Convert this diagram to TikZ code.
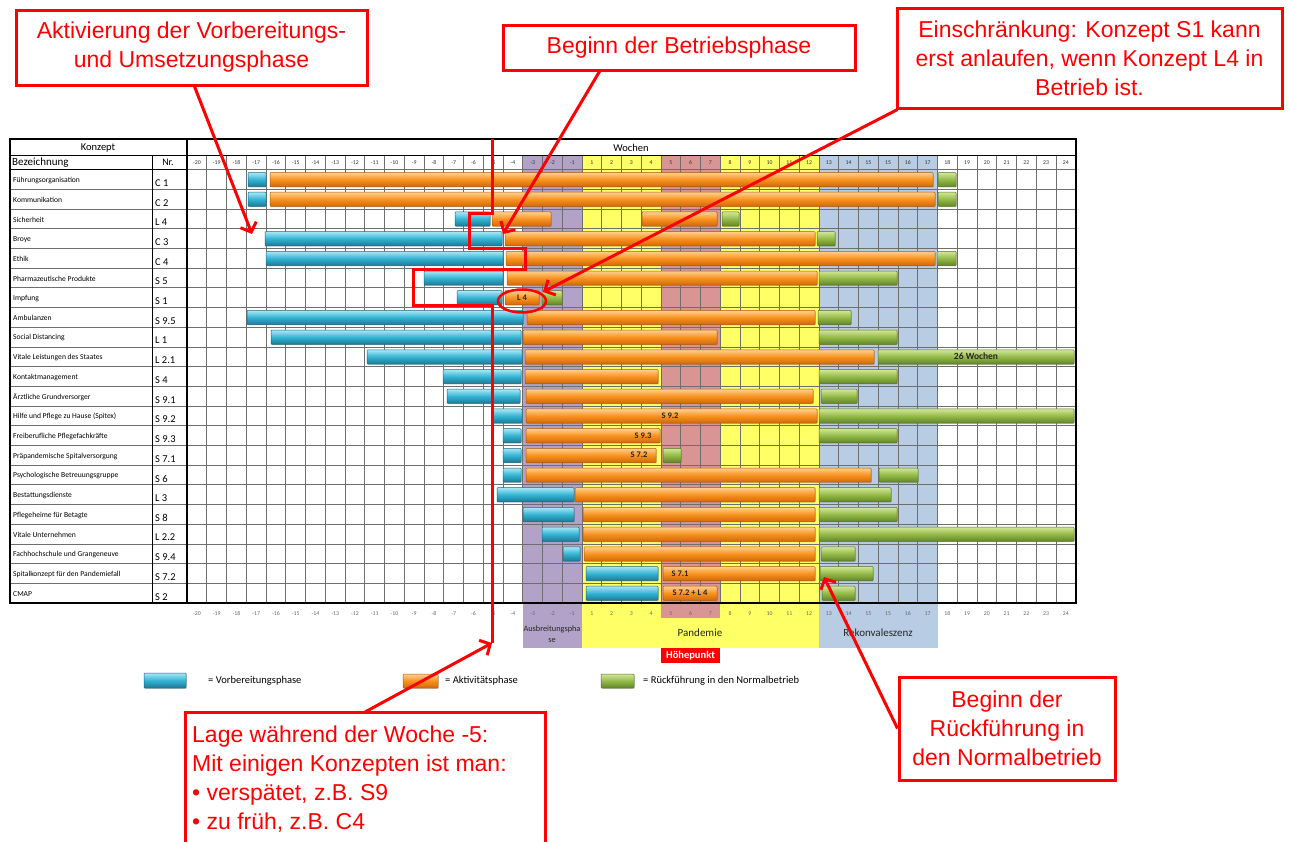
\documentclass[tikz,border=0pt]{standalone}
\usepackage{fontspec}
\setmainfont{Carlito}
\newfontfamily\annfont{Liberation Sans}
\usetikzlibrary{arrows.meta,shadows}

% phase colours
\definecolor{phPurple}{HTML}{B3A2C7}
\definecolor{phYellow}{HTML}{FFFF66}
\definecolor{phPink}{HTML}{D99594}
\definecolor{phBlue}{HTML}{B8CCE4}
\definecolor{annRed}{HTML}{FF0000}
\definecolor{gridGray}{HTML}{6E6E6E}
% bar colours
\definecolor{blueT}{HTML}{A8E8F6}
\definecolor{blueM}{HTML}{33B3D3}
\definecolor{blueB}{HTML}{1D7895}
\definecolor{blueD}{HTML}{1A6680}
\definecolor{orangeT}{HTML}{FFD08F}
\definecolor{orangeM}{HTML}{F7921E}
\definecolor{orangeB}{HTML}{D2680A}
\definecolor{orangeD}{HTML}{B05508}
\definecolor{greenT}{HTML}{D3E796}
\definecolor{greenM}{HTML}{93BA48}
\definecolor{greenB}{HTML}{62842A}
\definecolor{greenD}{HTML}{557322}

% one Gantt bar: style, row, left x, right x
\newcommand\gbar[4]{%
  \pgfmathsetmacro\gy{169.5+(#2-1)*19.7+3}%
  \path[#1] (#3,\gy) rectangle (#4,\gy+14.2);}

\begin{document}
\begin{tikzpicture}[x=1pt,y=-1pt,
  gridline/.style={draw=gridGray,line width=0.6pt},
  frameline/.style={draw=black,line width=1.8pt},
  rowlbl/.style={anchor=west,inner sep=0pt,font=\fontsize{7.6}{8}\selectfont},
  nrlbl/.style={anchor=west,inner sep=0pt,font=\fontsize{10.5}{11}\selectfont},
  wk/.style={inner sep=0pt,font=\fontsize{5.8}{6}\selectfont,text=black!80},
  barbase/.style={line width=0.5pt,rounded corners=0.8pt,
    drop shadow={opacity=0.3,shadow xshift=0.8pt,shadow yshift=-0.8pt}},
  bluebar/.style={barbase,top color=blueT,bottom color=blueB,middle color=blueM,draw=blueD},
  orangebar/.style={barbase,top color=orangeT,bottom color=orangeB,middle color=orangeM,draw=orangeD},
  greenbar/.style={barbase,top color=greenT,bottom color=greenB,middle color=greenM,draw=greenD},
  barlbl/.style={inner sep=0pt,font=\bfseries\fontsize{8.5}{9}\selectfont,text=black!85},
  phaselbl/.style={inner sep=0pt,align=center,font=\fontsize{11}{12}\selectfont,text=black!85},
  leglbl/.style={anchor=west,inner sep=0pt,font=\fontsize{10.5}{11}\selectfont},
  annbox/.style={draw=annRed,line width=3pt,fill=white,text=annRed,align=center,
    font=\annfont\fontsize{23}{29}\selectfont,inner sep=0pt},
  annline/.style={draw=annRed,line width=3pt},
  annarrow/.style={annline,-{Straight Barb[length=8pt,width=17pt]}}
]
\useasboundingbox (0,0) rectangle (1289,841);
\fill[white] (0,0) rectangle (1289,841);

% ---- phase columns inside the table
\fill[phPurple] (522.75,155.5) rectangle (582,603);
\fill[phYellow] (582,155.5) rectangle (661,603);
\fill[phPink]   (661,155.5) rectangle (720.25,603);
\fill[phYellow] (720.25,155.5) rectangle (819,603);
\fill[phBlue]   (819,155.5) rectangle (937.5,603);
% ---- phase boxes under the table
\fill[phPurple] (522.75,603) rectangle (582,648);
\fill[phYellow] (582,603) rectangle (819,648);
\fill[phPink]   (661,603) rectangle (720.25,618);
\fill[phBlue]   (819,603) rectangle (937.5,648);

% ---- grid
\foreach \c in {1,...,44}
  \draw[gridline] (187+19.75*\c,155.5) -- (187+19.75*\c,603);
\foreach \r in {1,...,21}
  \draw[gridline] (10,169.5+19.7*\r) -- (1076,169.5+19.7*\r);
\draw[gridline] (187,169.5) -- (1076,169.5);

% ---- frame
\draw[line width=1.2pt] (10,169.5) -- (187,169.5);
\draw[line width=0.8pt] (152,155.5) -- (152,603);
\draw[line width=1.6pt] (10,155.5) -- (1076,155.5);
\draw[frameline] (187,139) -- (187,603);
\draw[frameline] (10,139) rectangle (1076,603);

% ---- headers
\node[inner sep=0pt,font=\fontsize{10.5}{11}\selectfont] (hKonzept) at (98,147.5) {Konzept};
\node[inner sep=0pt,font=\fontsize{10.5}{11}\selectfont] (hWochen) at (631,147.5) {Wochen};
\node[anchor=west,inner sep=0pt,font=\fontsize{11}{12}\selectfont] (hBez) at (12,162.5) {Bezeichnung};
\node[inner sep=0pt,font=\fontsize{10}{11}\selectfont] (hNr) at (168,162.5) {Nr.};

% ---- week numbers, top and bottom
\foreach \w [count=\c from 0] in {-20,-19,-18,-17,-16,-15,-14,-13,-12,-11,-10,-9,-8,-7,-6,-5,-4,-3,-2,-1,1,2,3,4,5,6,7,8,9,10,11,12,13,14,15,15,16,17,18,19,20,21,22,23,24} {
  \node[wk] (wt\c) at (196.875+19.75*\c,163) {\w};
  \node[wk,text=black!60] (wb\c) at (196.875+19.75*\c,614) {\w};
}

% ---- concept names and numbers
\foreach \lab/\nr [count=\i] in {Führungsorganisation/C 1,Kommunikation/C 2,Sicherheit/L 4,Broye/C 3,Ethik/C 4,Pharmazeutische Produkte/S 5,Impfung/S 1,Ambulanzen/S 9.5,Social Distancing/L 1,Vitale Leistungen des Staates/L 2.1,Kontaktmanagement/S 4,Ärztliche Grundversorger/S 9.1,Hilfe und Pflege zu Hause (Spitex)/S 9.2,Freiberufliche Pflegefachkräfte/S 9.3,Präpandemische Spitalversorgung/S 7.1,Psychologische Betreuungsgruppe/S 6,Bestattungsdienste/L 3,Pflegeheime für Betagte/S 8,Vitale Unternehmen/L 2.2,Fachhochschule und Grangeneuve/S 9.4,Spitalkonzept für den Pandemiefall/S 7.2,CMAP/S 2} {
  \node[rowlbl] (lab\i) at (13,169.5+19.7*\i-8.8) {\lab};
  \node[nrlbl] (nr\i) at (155,169.5+19.7*\i-6.2) {\nr};
}

% ---- bars
\gbar{bluebar}{1}{248}{266}   \gbar{orangebar}{1}{270}{933}  \gbar{greenbar}{1}{938}{956}
\gbar{bluebar}{2}{248}{266}   \gbar{orangebar}{2}{270}{935}  \gbar{greenbar}{2}{938}{956}
\gbar{bluebar}{3}{455}{490}   \gbar{orangebar}{3}{492}{551}  \gbar{orangebar}{3}{642}{717} \gbar{greenbar}{3}{722}{739}
\gbar{bluebar}{4}{265}{502}   \gbar{orangebar}{4}{505}{815}  \gbar{greenbar}{4}{817}{835}
\gbar{bluebar}{5}{266}{503}   \gbar{orangebar}{5}{506}{935}  \gbar{greenbar}{5}{937}{956}
\gbar{bluebar}{6}{424}{503}   \gbar{orangebar}{6}{507}{817}  \gbar{greenbar}{6}{819}{897}
\gbar{bluebar}{7}{457}{502}   \gbar{orangebar}{7}{505}{539}  \gbar{greenbar}{7}{542}{562}
\gbar{bluebar}{8}{247}{523}   \gbar{orangebar}{8}{527}{815}  \gbar{greenbar}{8}{818}{851}
\gbar{bluebar}{9}{271}{521}   \gbar{orangebar}{9}{523}{717}  \gbar{greenbar}{9}{819}{897}
\gbar{bluebar}{10}{367}{522}  \gbar{orangebar}{10}{525}{874} \gbar{greenbar}{10}{878}{1074}
\gbar{bluebar}{11}{443}{521}  \gbar{orangebar}{11}{525}{658} \gbar{greenbar}{11}{819}{897}
\gbar{bluebar}{12}{447}{520}  \gbar{orangebar}{12}{526}{813} \gbar{greenbar}{12}{821}{857}
\gbar{bluebar}{13}{493}{522}  \gbar{orangebar}{13}{526}{817} \gbar{greenbar}{13}{819}{1074}
\gbar{bluebar}{14}{503}{521}  \gbar{orangebar}{14}{526}{660} \gbar{greenbar}{14}{819}{897}
\gbar{bluebar}{15}{503}{521}  \gbar{orangebar}{15}{526}{656} \gbar{greenbar}{15}{663}{681}
\gbar{bluebar}{16}{503}{521}  \gbar{orangebar}{16}{526}{871} \gbar{greenbar}{16}{879}{918}
\gbar{bluebar}{17}{497}{574}  \gbar{orangebar}{17}{575}{815} \gbar{greenbar}{17}{819}{891}
\gbar{bluebar}{18}{523}{574}  \gbar{orangebar}{18}{583}{815} \gbar{greenbar}{18}{819}{897}
\gbar{bluebar}{19}{542}{579}  \gbar{orangebar}{19}{583}{815} \gbar{greenbar}{19}{819}{1074}
\gbar{bluebar}{20}{563}{580}  \gbar{orangebar}{20}{584}{815} \gbar{greenbar}{20}{821}{855}
\gbar{bluebar}{21}{586}{658}  \gbar{orangebar}{21}{663}{815} \gbar{greenbar}{21}{820}{873}
\gbar{bluebar}{22}{586}{658}  \gbar{orangebar}{22}{663}{717} \gbar{greenbar}{22}{822}{855}

% ---- bar captions
\node[barlbl] (bl7)  at (522,169.5+19.7*6.5) {L 4};
\node[barlbl,font=\bfseries\fontsize{9.5}{10}\selectfont] (bl10) at (976,169.5+19.7*9.5) {26 Wochen};
\node[barlbl] (bl13) at (670,169.5+19.7*12.5) {S 9.2};
\node[barlbl] (bl14) at (643,169.5+19.7*13.5) {S 9.3};
\node[barlbl] (bl15) at (639,169.5+19.7*14.5) {S 7.2};
\node[barlbl] (bl21) at (680,169.5+19.7*20.5) {S 7.1};
\node[barlbl] (bl22) at (690,169.5+19.7*21.5) {S 7.2 + L 4};

% ---- phase names
\node[phaselbl,font=\fontsize{8.3}{11}\selectfont] (phAus) at (552,634) {Ausbreitungspha\\se};
\node[phaselbl] (phPan) at (700,633) {Pandemie};
\node[phaselbl] (phRek) at (878,633) {Rekonvaleszenz};
\node[fill=annRed,text=white,font=\bfseries\fontsize{10.5}{11}\selectfont,
      minimum width=59pt,minimum height=15pt,inner sep=0pt] (peak) at (690.5,655.5) {Höhepunkt};

% ---- legend
\path[bluebar] (144,673) rectangle (186,688);
\node[leglbl] (legB) at (208,681) {= Vorbereitungsphase};
\path[orangebar] (403,674) rectangle (438,688);
\node[leglbl] (legO) at (445,681) {= Aktivitätsphase};
\path[greenbar] (601,674) rectangle (634,688);
\node[leglbl] (legG) at (643,681) {= Rückführung in den Normalbetrieb};

% ---- week -5 marker line
\coordinate (wkTop) at (492,139);
\coordinate (wkLow) at (492,643);
\draw[annline] (wkTop) -- (492,213) -- (469,213) -- (469,248) -- (525,248) -- (525,269)
  -- (413,269) -- (413,305) -- (492,305) -- (wkLow);
\draw[annRed,line width=2.5pt] (522,301) ellipse [x radius=24pt,y radius=11.5pt];

% ---- callouts
\node[annbox,minimum width=351pt,minimum height=75pt] (annAkt) at (191.5,47.5)
  {Aktivierung der Vorbereitungs-\\und Umsetzungsphase};
\node[annbox,minimum width=352pt,minimum height=45pt] (annBeg) at (679,47.5)
  {Beginn der Betriebsphase};
\node[annbox,minimum width=385pt,minimum height=100pt] (annEin) at (1089.5,58)
  {Einschränkung: Konzept S1 kann\\erst anlaufen, wenn Konzept L4 in\\Betrieb ist.};
\node[annbox,minimum width=216pt,minimum height=103pt] (annRue) at (1007,728.5)
  {Beginn der\\Rückführung in\\den Normalbetrieb};
\draw[annline] (185,850) -- (185,712) -- (545,712) -- (545,850);
\node[anchor=north west,inner sep=0pt,align=left,text=annRed,
      font=\annfont\fontsize{23}{29}\selectfont] (annLage) at (192,726)
  {Lage während der Woche -5:\\Mit einigen Konzepten ist man:\\• verspätet, z.B. S9\\• zu früh, z.B. C4};
\coordinate (lageTop) at (365,712);

\coordinate (tgtAkt) at (252,234);
\coordinate (tgtBeg) at (503,234);
\coordinate (tgtEin) at (543,292);
\coordinate (tgtRue) at (824,577);

\draw[annarrow] (annAkt.south west) ++(180pt,0) -- (tgtAkt);
\draw[annarrow] (annBeg.south west) ++(98pt,0) -- (tgtBeg);
\draw[annarrow] (annEin.south west) ++(2pt,0) -- (tgtEin);
\draw[annarrow] (annRue.west) -- (tgtRue);
\draw[annarrow] (lageTop) -- (wkLow);
\end{tikzpicture}
\end{document}
